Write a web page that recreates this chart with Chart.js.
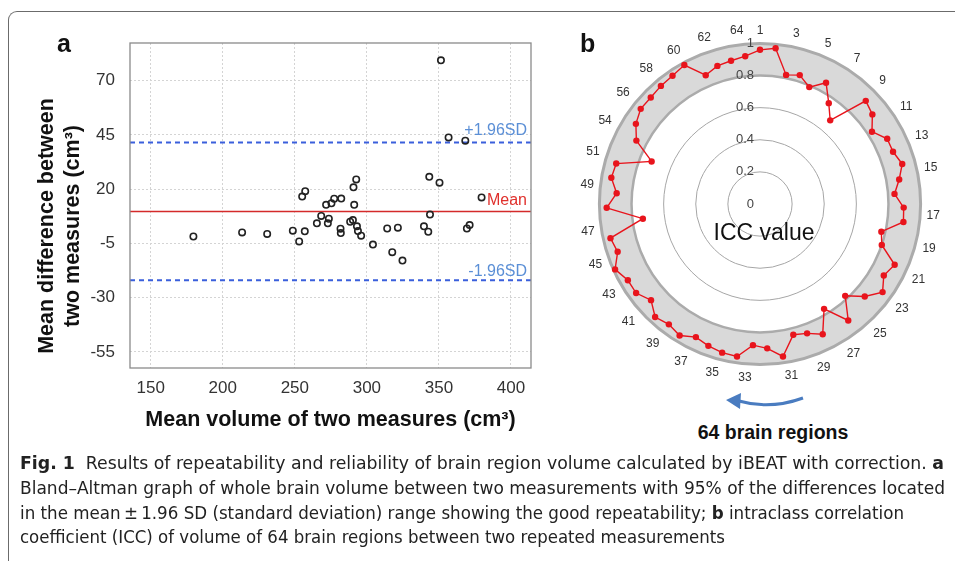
<!DOCTYPE html>
<html>
<head>
<meta charset="utf-8">
<script src="https://cdn.jsdelivr.net/npm/chart.js@4.4.1/dist/chart.umd.min.js"></script>
<style>
  html, body { margin: 0; padding: 0; background: #fff; }
  body { width: 955px; height: 561px; position: relative; overflow: hidden; font-family: "Liberation Sans", Arial, sans-serif; }
  .frame { position: absolute; left: 8px; top: 11px; width: 1100px; height: 600px;
           border-left: 1.5px solid #6b6b6b; border-top: 1.5px solid #6b6b6b; border-top-left-radius: 9px; }
  canvas { position: absolute; }
  .panel { position: absolute; font-weight: bold; font-size: 25px; color: #111; line-height: 1; }
  .ytitle { position: absolute; left: -91px; top: 200px; width: 300px; height: 52px; text-align: center;
            transform: rotate(-90deg); font-weight: bold; font-size: 21.5px; line-height: 26px; color: #111; white-space: nowrap; }
  .icc { position: absolute; left: 664px; top: 218px; width: 200px; text-align: center; font-size: 23px; color: #111; line-height: 28px; }
  .regions { position: absolute; left: 673px; top: 420px; width: 200px; text-align: center; font-size: 19.5px; font-weight: bold; color: #111; line-height: 24px; }
  .cap { position: absolute; left: 20px; white-space: nowrap; font-family: "Liberation Sans Narrow", "DejaVu Sans Condensed", "Arial Narrow", sans-serif;
         font-size: 18.5px; line-height: 24px; color: #222; transform-origin: 0 50%; }
</style>
</head>
<body>
<div class="frame"></div>
<canvas id="chartA" width="545" height="440" style="left:0;top:0"></canvas>
<canvas id="chartB" width="362" height="362" style="left:580px;top:23px"></canvas>

<div class="panel" style="left:57px;top:31px">a</div>
<div class="panel" style="left:580px;top:31px">b</div>
<div class="ytitle">Mean difference between<br>two measures (cm³)</div>
<div class="icc">ICC value</div>
<div class="regions">64 brain regions</div>
<svg width="955" height="561" style="position:absolute;left:0;top:0">
  <path d="M803 398 Q770 410 739 401" fill="none" stroke="#4a7cc0" stroke-width="3"/>
  <polygon points="726,400 741,393 740,409" fill="#4a7cc0"/>
</svg>

<div class="cap" id="cap1" style="top:451px"><b>Fig. 1</b>&nbsp; Results of repeatability and reliability of brain region volume calculated by iBEAT with correction. <b>a</b></div>
<div class="cap" id="cap2" style="top:476px">Bland–Altman graph of whole brain volume between two measurements with 95% of the differences located</div>
<div class="cap" id="cap3" style="top:501px">in the mean&#8201;±&#8201;1.96 SD (standard deviation) range showing the good repeatability; <b>b</b> intraclass correlation</div>
<div class="cap" id="cap4" style="top:525px">coefficient (ICC) of volume of 64 brain regions between two repeated measurements</div>

<script>
// panel a: Bland-Altman
const meanVolume = [179.6, 213.4, 230.8, 248.6, 253.0, 256.9, 255.1, 257.2, 265.3, 268.3, 271.7, 273.6, 272.9, 275.4,
  277.3, 282.2, 281.7, 281.9, 288.4, 290.3, 290.7, 292.6, 291.2, 293.1, 293.8, 296.0, 304.2, 314.1, 321.5, 317.6,
  324.7, 339.6, 342.6, 343.8, 343.3, 350.4, 351.4, 356.7, 368.3, 369.4, 371.3, 379.6];
const meanDifference = [-1.8, 0.1, -0.6, 0.9, -4.1, 0.6, 16.6, 19.1, 4.3, 7.7, 12.8, 6.4, 4.3, 13.5,
  15.6, 15.7, 1.8, -0.2, 5.0, 5.8, 20.9, 24.5, 12.8, 2.9, 0.7, -1.4, -5.5, 1.9, 2.3, -9.0,
  -12.9, 2.9, 0.4, 8.3, 25.7, 23.0, 79.4, 43.9, 42.4, 1.9, 3.5, 16.2];
const meanDiff = 9.75;
const upperLoA = 41.5;
const lowerLoA = -22.0;
const xTicks = [150, 200, 250, 300, 350, 400];
const yTicks = [-55, -30, -5, 20, 45, 70];
const xRange = [135.6, 413.9];
const yRange = [-62.4, 87.4];

// panel b: ICC per brain region (region 64 sits on top of region 1)
const regionLabels = ['1', '', '3', '', '5', '', '7', '', '9', '', '11', '', '13', '', '15', '', '17', '', '19', '',
  '21', '', '23', '', '25', '', '27', '', '29', '', '31', '', '33', '', '35', '', '37', '', '39', '',
  '41', '', '43', '', '45', '', '47', '', '49', '', '51', '', '54', '', '56', '', '58', '', '60', '',
  '62', '', '64'];
const iccValues = [0.96, 0.975, 0.82, 0.84, 0.79, 0.86, 0.76, 0.68, 0.92, 0.895,
  0.83, 0.89, 0.89, 0.92, 0.88, 0.84, 0.895, 0.90, 0.775, 0.80,
  0.92, 0.89, 0.94, 0.87, 0.78, 0.91, 0.765, 0.90, 0.857, 0.84,
  0.96, 0.90, 0.88, 0.96, 0.955, 0.94, 0.92, 0.96, 0.94, 0.96,
  0.905, 0.95, 0.95, 0.99, 0.935, 0.955, 0.735, 0.955, 0.895, 0.94,
  0.93, 0.725, 0.865, 0.92, 0.95, 0.95, 0.96, 0.967, 0.985, 0.87,
  0.90, 0.91, 0.925];
const iccTicks = [0, 0.2, 0.4, 0.6, 0.8, 1];
const iccTickLabels = ['0', '0.2', '0.4', '0.6', '0.8', '1'];
const bandLow = 0.8;
const bandHigh = 1.0;

Chart.defaults.font.family = '"Liberation Sans", Arial, sans-serif';

const refLabels = [
  { text: '+1.96SD', value: upperLoA, color: '#5b8fd6', dy: 8 },
  { text: 'Mean', value: meanDiff, color: '#e0302c', dy: 6 },
  { text: '-1.96SD', value: lowerLoA, color: '#5b8fd6', dy: 4 }
];

const boxAndLabels = {
  id: 'boxAndLabels',
  afterDraw(chart) {
    const { ctx, chartArea: a, scales } = chart;
    ctx.save();
    ctx.strokeStyle = '#8a8a8a';
    ctx.lineWidth = 1.3;
    ctx.strokeRect(a.left, a.top, a.right - a.left, a.bottom - a.top);
    ctx.font = '16px "Liberation Sans", Arial, sans-serif';
    ctx.textAlign = 'right';
    ctx.textBaseline = 'alphabetic';
    refLabels.forEach(l => {
      ctx.fillStyle = l.color;
      ctx.fillText(l.text, a.right - 4, scales.y.getPixelForValue(l.value) - l.dy);
    });
    ctx.restore();
  }
};

const hLine = (v) => [{ x: xRange[0], y: v }, { x: xRange[1], y: v }];

new Chart(document.getElementById('chartA'), {
  type: 'scatter',
  data: {
    datasets: [
      {
        data: meanVolume.map((x, i) => ({ x: x, y: meanDifference[i] })),
        pointRadius: 3.2,
        pointBorderWidth: 1.6,
        borderColor: '#222',
        backgroundColor: 'rgba(0,0,0,0)',
        order: 0
      },
      { type: 'line', data: hLine(meanDiff), borderColor: '#d42a2a', borderWidth: 1.5, pointRadius: 0, order: 1 },
      { type: 'line', data: hLine(upperLoA), borderColor: '#3a5fdc', borderWidth: 2, borderDash: [5, 4], pointRadius: 0, order: 1 },
      { type: 'line', data: hLine(lowerLoA), borderColor: '#3a5fdc', borderWidth: 2, borderDash: [5, 4], pointRadius: 0, order: 1 }
    ]
  },
  options: {
    responsive: false,
    animation: false,
    layout: { padding: { left: 0, top: 43, right: 14, bottom: 0 } },
    plugins: { legend: { display: false }, tooltip: { enabled: false } },
    scales: {
      x: {
        type: 'linear',
        min: xRange[0],
        max: xRange[1],
        afterBuildTicks: s => { s.ticks = xTicks.map(v => ({ value: v })); },
        afterFit: s => { s.height = 72; },
        ticks: { font: { size: 17 }, color: '#333', padding: 10 },
        grid: { color: '#d4d4d4', drawTicks: false },
        border: { display: false, dash: [2, 2] },
        title: { display: true, text: 'Mean volume of two measures (cm³)', font: { size: 21.5, weight: 'bold' },
                 color: '#111', padding: { top: 0, bottom: 7 } }
      },
      y: {
        type: 'linear',
        min: yRange[0],
        max: yRange[1],
        afterBuildTicks: s => { s.ticks = yTicks.map(v => ({ value: v })); },
        afterFit: s => { s.width = 130; },
        ticks: { font: { size: 17 }, color: '#333', padding: 15 },
        grid: { color: '#d4d4d4', drawTicks: false },
        border: { display: false, dash: [2, 2] }
      }
    }
  },
  plugins: [boxAndLabels]
});

const iccBand = {
  id: 'iccBand',
  beforeDraw(chart) {
    const s = chart.scales.r;
    const { ctx } = chart;
    const r0 = s.getDistanceFromCenterForValue(bandLow);
    const r1 = s.getDistanceFromCenterForValue(bandHigh);
    ctx.save();
    ctx.beginPath();
    ctx.arc(s.xCenter, s.yCenter, r1, 0, Math.PI * 2);
    ctx.arc(s.xCenter, s.yCenter, r0, 0, Math.PI * 2, true);
    ctx.fillStyle = '#d9d9d9';
    ctx.fill();
    ctx.restore();
  },
  afterDraw(chart) {
    const s = chart.scales.r;
    const { ctx } = chart;
    ctx.save();
    ctx.font = '13px "Liberation Sans", Arial, sans-serif';
    ctx.fillStyle = '#444';
    ctx.textAlign = 'right';
    ctx.textBaseline = 'middle';
    iccTicks.forEach((v, i) => {
      ctx.fillText(iccTickLabels[i], s.xCenter - 6, s.yCenter - s.getDistanceFromCenterForValue(v));
    });
    ctx.restore();
  }
};

new Chart(document.getElementById('chartB'), {
  type: 'radar',
  data: {
    labels: regionLabels,
    datasets: [{
      data: iccValues,
      borderColor: '#e8141c',
      backgroundColor: '#e8141c',
      pointBackgroundColor: '#e8141c',
      pointBorderColor: '#e8141c',
      pointRadius: 3.2,
      pointBorderWidth: 0,
      borderWidth: 1.4,
      fill: false,
      tension: 0
    }]
  },
  options: {
    responsive: false,
    animation: false,
    plugins: { legend: { display: false }, tooltip: { enabled: false } },
    scales: {
      r: {
        min: 0,
        max: 1,
        afterBuildTicks: s => { s.ticks = iccTicks.map(v => ({ value: v })); },
        ticks: { display: false },
        angleLines: { display: false },
        grid: {
          circular: true,
          color: c => (c.tick && c.tick.value > 0.79) ? '#ababab' : '#a6a6a6',
          lineWidth: c => (c.tick && c.tick.value > 0.99) ? 3 : (c.tick && c.tick.value > 0.79) ? 2.5 : 1
        },
        pointLabels: { font: { size: 12 }, color: '#333', padding: 6 }
      }
    }
  },
  plugins: [iccBand]
});

// fit caption lines to the widths in the reference
const capWidths = [924, 925, 884, 705];
capWidths.forEach((w, i) => {
  const el = document.getElementById('cap' + (i + 1));
  el.style.display = 'inline-block';
  const cur = el.getBoundingClientRect().width;
  el.style.transform = 'scaleX(' + (w / cur) + ')';
});
</script>
</body>
</html>
